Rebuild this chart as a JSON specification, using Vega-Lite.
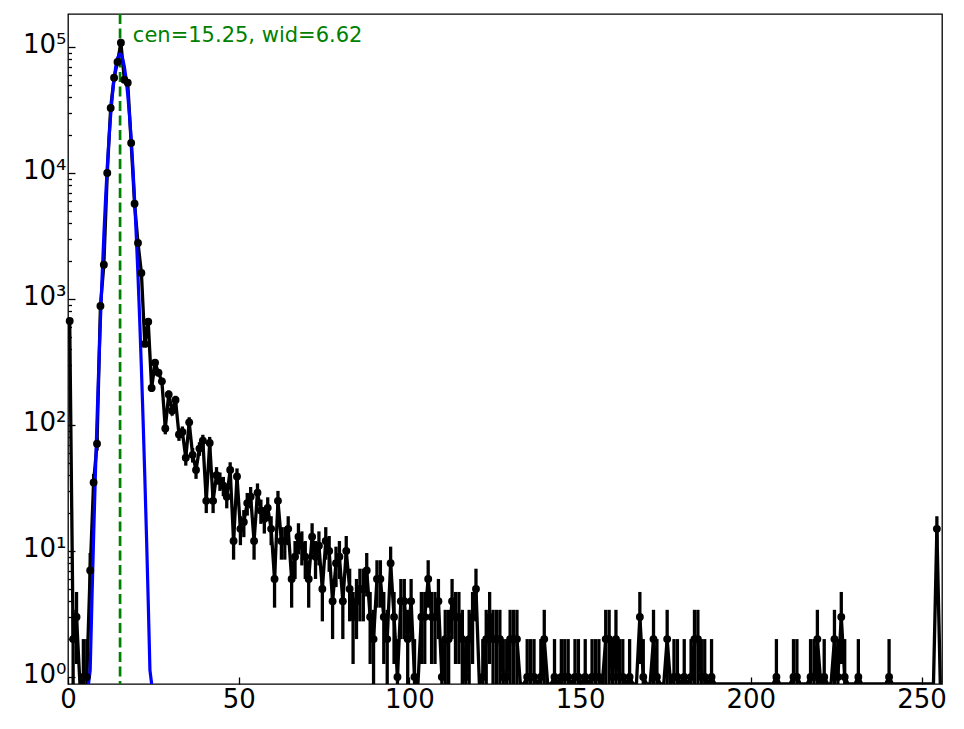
{
  "$schema": "https://vega.github.io/schema/vega-lite/v6.json",
  "width": 874,
  "height": 670,
  "autosize": {"type": "none"},
  "padding": {"left": 68, "top": 14, "right": 22, "bottom": 45},
  "background": "white",
  "config": {
    "view": {"stroke": "black", "strokeWidth": 1.3},
    "font": "DejaVu Sans",
    "axis": {"labelFont": "DejaVu Sans", "labelColor": "black"}
  },
  "data": {"values": [
    {"x":0.5,"n":670,"e":25.88},{"x":1.5,"n":2,"e":1.414},{"x":2.5,"n":3,"e":1.732},{"x":3.5,"n":0,"e":0},
    {"x":4.5,"n":1,"e":1},{"x":5.5,"n":1,"e":1},{"x":6.5,"n":7,"e":2.646},{"x":7.5,"n":35,"e":5.916},
    {"x":8.5,"n":71,"e":8.426},{"x":9.5,"n":880,"e":29.66},{"x":10.5,"n":1870,"e":43.24},{"x":11.5,"n":10000,"e":100},
    {"x":12.5,"n":32800,"e":181.1},{"x":13.5,"n":57000,"e":238.7},{"x":14.5,"n":76000,"e":275.7},{"x":15.5,"n":108000,"e":328.6},
    {"x":16.5,"n":55000,"e":234.5},{"x":17.5,"n":52000,"e":228},{"x":18.5,"n":17300,"e":131.5},{"x":19.5,"n":5700,"e":75.5},
    {"x":20.5,"n":2780,"e":52.73},{"x":21.5,"n":1610,"e":40.12},{"x":22.5,"n":440,"e":20.98},{"x":23.5,"n":660,"e":25.69},
    {"x":24.5,"n":197,"e":14.04},{"x":25.5,"n":312,"e":17.66},{"x":26.5,"n":260,"e":16.12},{"x":27.5,"n":222,"e":14.9},
    {"x":28.5,"n":94,"e":9.695},{"x":29.5,"n":175,"e":13.23},{"x":30.5,"n":130,"e":11.4},{"x":31.5,"n":158,"e":12.57},
    {"x":32.5,"n":84,"e":9.165},{"x":33.5,"n":88,"e":9.381},{"x":34.5,"n":55,"e":7.416},{"x":35.5,"n":105,"e":10.25},
    {"x":36.5,"n":58,"e":7.616},{"x":37.5,"n":44,"e":6.633},{"x":38.5,"n":65,"e":8.062},{"x":39.5,"n":75,"e":8.66},
    {"x":40.5,"n":25,"e":5},{"x":41.5,"n":72,"e":8.485},{"x":42.5,"n":25,"e":5},{"x":43.5,"n":40,"e":6.325},
    {"x":44.5,"n":36,"e":6},{"x":45.5,"n":33,"e":5.745},{"x":46.5,"n":27,"e":5.196},{"x":47.5,"n":44,"e":6.633},
    {"x":48.5,"n":12,"e":3.464},{"x":49.5,"n":39,"e":6.245},{"x":50.5,"n":15,"e":3.873},{"x":51.5,"n":17,"e":4.123},
    {"x":52.5,"n":24,"e":4.899},{"x":53.5,"n":27,"e":5.196},{"x":54.5,"n":12,"e":3.464},{"x":55.5,"n":29,"e":5.385},
    {"x":56.5,"n":21,"e":4.583},{"x":57.5,"n":18,"e":4.243},{"x":58.5,"n":22,"e":4.69},{"x":59.5,"n":15,"e":3.873},
    {"x":60.5,"n":6,"e":2.449},{"x":61.5,"n":25,"e":5},{"x":62.5,"n":12,"e":3.464},{"x":63.5,"n":12,"e":3.464},
    {"x":64.5,"n":15,"e":3.873},{"x":65.5,"n":6,"e":2.449},{"x":66.5,"n":9,"e":3},{"x":67.5,"n":13,"e":3.606},
    {"x":68.5,"n":11,"e":3.317},{"x":69.5,"n":9,"e":3},{"x":70.5,"n":6,"e":2.449},{"x":71.5,"n":13,"e":3.606},
    {"x":72.5,"n":9,"e":3},{"x":73.5,"n":11,"e":3.317},{"x":74.5,"n":5,"e":2.236},{"x":75.5,"n":12,"e":3.464},
    {"x":76.5,"n":10,"e":3.162},{"x":77.5,"n":4,"e":2},{"x":78.5,"n":8,"e":2.828},{"x":79.5,"n":9,"e":3},
    {"x":80.5,"n":4,"e":2},{"x":81.5,"n":10,"e":3.162},{"x":82.5,"n":5,"e":2.236},{"x":83.5,"n":3,"e":1.732},
    {"x":84.5,"n":4,"e":2},{"x":85.5,"n":5,"e":2.236},{"x":86.5,"n":5,"e":2.236},{"x":87.5,"n":7,"e":2.646},
    {"x":88.5,"n":3,"e":1.732},{"x":89.5,"n":2,"e":1.414},{"x":90.5,"n":6,"e":2.449},{"x":91.5,"n":6,"e":2.449},
    {"x":92.5,"n":3,"e":1.732},{"x":93.5,"n":2,"e":1.414},{"x":94.5,"n":8,"e":2.828},{"x":95.5,"n":3,"e":1.732},
    {"x":96.5,"n":1,"e":1},{"x":97.5,"n":4,"e":2},{"x":98.5,"n":4,"e":2},{"x":99.5,"n":2,"e":1.414},
    {"x":100.5,"n":4,"e":2},{"x":101.5,"n":1,"e":1},{"x":102.5,"n":0,"e":0},{"x":103.5,"n":3,"e":1.732},
    {"x":104.5,"n":3,"e":1.732},{"x":105.5,"n":6,"e":2.449},{"x":106.5,"n":3,"e":1.732},{"x":107.5,"n":3,"e":1.732},
    {"x":108.5,"n":4,"e":2},{"x":109.5,"n":1,"e":1},{"x":110.5,"n":2,"e":1.414},{"x":111.5,"n":2,"e":1.414},
    {"x":112.5,"n":4,"e":2},{"x":113.5,"n":3,"e":1.732},{"x":114.5,"n":3,"e":1.732},{"x":115.5,"n":2,"e":1.414},
    {"x":116.5,"n":1,"e":1},{"x":117.5,"n":2,"e":1.414},{"x":118.5,"n":3,"e":1.732},{"x":119.5,"n":5,"e":2.236},
    {"x":120.5,"n":0,"e":0},{"x":121.5,"n":1,"e":1},{"x":122.5,"n":2,"e":1.414},{"x":123.5,"n":3,"e":1.732},
    {"x":124.5,"n":2,"e":1.414},{"x":125.5,"n":2,"e":1.414},{"x":126.5,"n":2,"e":1.414},{"x":127.5,"n":1,"e":1},
    {"x":128.5,"n":1,"e":1},{"x":129.5,"n":2,"e":1.414},{"x":130.5,"n":2,"e":1.414},{"x":131.5,"n":2,"e":1.414},
    {"x":132.5,"n":0,"e":0},{"x":133.5,"n":0,"e":0},{"x":134.5,"n":1,"e":1},{"x":135.5,"n":1,"e":1},
    {"x":136.5,"n":1,"e":1},{"x":137.5,"n":0,"e":0},{"x":138.5,"n":1,"e":1},{"x":139.5,"n":2,"e":1.414},
    {"x":140.5,"n":0,"e":0},{"x":141.5,"n":0,"e":0},{"x":142.5,"n":1,"e":1},{"x":143.5,"n":0,"e":0},
    {"x":144.5,"n":1,"e":1},{"x":145.5,"n":1,"e":1},{"x":146.5,"n":1,"e":1},{"x":147.5,"n":0,"e":0},
    {"x":148.5,"n":1,"e":1},{"x":149.5,"n":1,"e":1},{"x":150.5,"n":0,"e":0},{"x":151.5,"n":1,"e":1},
    {"x":152.5,"n":0,"e":0},{"x":153.5,"n":1,"e":1},{"x":154.5,"n":1,"e":1},{"x":155.5,"n":1,"e":1},
    {"x":156.5,"n":0,"e":0},{"x":157.5,"n":2,"e":1.414},{"x":158.5,"n":2,"e":1.414},{"x":159.5,"n":1,"e":1},
    {"x":160.5,"n":2,"e":1.414},{"x":161.5,"n":1,"e":1},{"x":162.5,"n":1,"e":1},{"x":163.5,"n":0,"e":0},
    {"x":164.5,"n":1,"e":1},{"x":165.5,"n":0,"e":0},{"x":166.5,"n":0,"e":0},{"x":167.5,"n":3,"e":1.732},
    {"x":168.5,"n":1,"e":1},{"x":169.5,"n":0,"e":0},{"x":170.5,"n":0,"e":0},{"x":171.5,"n":2,"e":1.414},
    {"x":172.5,"n":1,"e":1},{"x":173.5,"n":0,"e":0},{"x":174.5,"n":0,"e":0},{"x":175.5,"n":2,"e":1.414},
    {"x":176.5,"n":0,"e":0},{"x":177.5,"n":1,"e":1},{"x":178.5,"n":1,"e":1},{"x":179.5,"n":0,"e":0},
    {"x":180.5,"n":1,"e":1},{"x":181.5,"n":0,"e":0},{"x":182.5,"n":1,"e":1},{"x":183.5,"n":2,"e":1.414},
    {"x":184.5,"n":2,"e":1.414},{"x":185.5,"n":1,"e":1},{"x":186.5,"n":1,"e":1},{"x":187.5,"n":0,"e":0},
    {"x":188.5,"n":1,"e":1},{"x":189.5,"n":0,"e":0},{"x":190.5,"n":0,"e":0},{"x":191.5,"n":0,"e":0},
    {"x":192.5,"n":0,"e":0},{"x":193.5,"n":0,"e":0},{"x":194.5,"n":0,"e":0},{"x":195.5,"n":0,"e":0},
    {"x":196.5,"n":0,"e":0},{"x":197.5,"n":0,"e":0},{"x":198.5,"n":0,"e":0},{"x":199.5,"n":0,"e":0},
    {"x":200.5,"n":0,"e":0},{"x":201.5,"n":0,"e":0},{"x":202.5,"n":0,"e":0},{"x":203.5,"n":0,"e":0},
    {"x":204.5,"n":0,"e":0},{"x":205.5,"n":0,"e":0},{"x":206.5,"n":0,"e":0},{"x":207.5,"n":1,"e":1},
    {"x":208.5,"n":0,"e":0},{"x":209.5,"n":0,"e":0},{"x":210.5,"n":0,"e":0},{"x":211.5,"n":0,"e":0},
    {"x":212.5,"n":1,"e":1},{"x":213.5,"n":1,"e":1},{"x":214.5,"n":0,"e":0},{"x":215.5,"n":0,"e":0},
    {"x":216.5,"n":0,"e":0},{"x":217.5,"n":1,"e":1},{"x":218.5,"n":1,"e":1},{"x":219.5,"n":2,"e":1.414},
    {"x":220.5,"n":0,"e":0},{"x":221.5,"n":1,"e":1},{"x":222.5,"n":0,"e":0},{"x":223.5,"n":0,"e":0},
    {"x":224.5,"n":2,"e":1.414},{"x":225.5,"n":1,"e":1},{"x":226.5,"n":3,"e":1.732},{"x":227.5,"n":1,"e":1},
    {"x":228.5,"n":0,"e":0},{"x":229.5,"n":0,"e":0},{"x":230.5,"n":0,"e":0},{"x":231.5,"n":1,"e":1},
    {"x":232.5,"n":0,"e":0},{"x":233.5,"n":0,"e":0},{"x":234.5,"n":0,"e":0},{"x":235.5,"n":0,"e":0},
    {"x":236.5,"n":0,"e":0},{"x":237.5,"n":0,"e":0},{"x":238.5,"n":0,"e":0},{"x":239.5,"n":0,"e":0},
    {"x":240.5,"n":1,"e":1},{"x":241.5,"n":0,"e":0},{"x":242.5,"n":0,"e":0},{"x":243.5,"n":0,"e":0},
    {"x":244.5,"n":0,"e":0},{"x":245.5,"n":0,"e":0},{"x":246.5,"n":0,"e":0},{"x":247.5,"n":0,"e":0},
    {"x":248.5,"n":0,"e":0},{"x":249.5,"n":0,"e":0},{"x":250.5,"n":0,"e":0},{"x":251.5,"n":0,"e":0},
    {"x":252.5,"n":0,"e":0},{"x":253.5,"n":0,"e":0},{"x":254.5,"n":15,"e":3.873},{"x":255.5,"n":0,"e":0}
  ]},
  "layer": [
    {
      "data": {"values": [{}]},
      "mark": {"type": "rule", "color": "#008000", "strokeWidth": 2.7, "strokeDash": [10, 4.5]},
      "encoding": {"x": {"datum": 15.25, "type": "quantitative"}}
    },
    {
      "mark": {"type": "line", "color": "black", "strokeWidth": 3.3, "clip": true},
      "encoding": {
        "x": {"field": "x", "type": "quantitative",
          "scale": {"domain": [0, 256], "nice": false, "zero": false},
          "axis": {"title": null, "values": [0, 50, 100, 150, 200, 250], "grid": false, "domain": false,
            "tickColor": "black", "tickWidth": 1.3, "tickSize": -7, "labelPadding": 9,
            "labelFontSize": 26, "labelFlush": false, "labelOverlap": false}},
        "y": {"field": "n", "type": "quantitative",
          "scale": {"type": "log", "domain": [0.88, 182800], "nice": false, "clamp": true},
          "axis": {"title": null, "grid": false, "domain": false,
            "values": [1,2,3,4,5,6,7,8,9,10,20,30,40,50,60,70,80,90,100,200,300,400,500,600,700,800,900,1000,2000,3000,4000,5000,6000,7000,8000,9000,10000,20000,30000,40000,50000,60000,70000,80000,90000,100000],
            "labelExpr": "datum.value == 1 ? '10⁰' : datum.value == 10 ? '10¹' : datum.value == 100 ? '10²' : datum.value == 1000 ? '10³' : datum.value == 10000 ? '10⁴' : datum.value == 100000 ? '10⁵' : ''",
            "tickColor": "black", "tickWidth": 1.3,
            "tickSize": {"condition": {"test": "datum.value == 1 || datum.value == 10 || datum.value == 100 || datum.value == 1000 || datum.value == 10000 || datum.value == 100000", "value": -7}, "value": -3.5},
            "labelPadding": 9, "labelFontSize": 26, "labelOffset": -3, "labelOverlap": false, "labelBound": false, "labelFlush": false, "labelBaseline": "middle"}}
      }
    },
    {
      "transform": [{"filter": "datum.n > 0"}],
      "mark": {"type": "errorbar", "color": "black", "thickness": 3.3},
      "encoding": {
        "x": {"field": "x", "type": "quantitative", "title": null},
        "y": {"field": "n", "type": "quantitative", "title": null},
        "yError": {"field": "e"}
      }
    },
    {
      "data": {"values": [
        {"x":6.0,"f":0.302},{"x":6.5,"f":1.134},{"x":7.0,"f":3.96},{"x":7.5,"f":12.84},{"x":8.0,"f":38.7},
        {"x":8.5,"f":108.3},{"x":9.0,"f":281.6},{"x":9.5,"f":680.6},{"x":10.0,"f":1529},{"x":10.5,"f":3188},
        {"x":11.0,"f":6178},{"x":11.5,"f":11128},{"x":12.0,"f":18617},{"x":12.5,"f":28940},{"x":13.0,"f":41800},
        {"x":13.5,"f":56089},{"x":14.0,"f":69935},{"x":14.5,"f":81014},{"x":15.0,"f":87195},{"x":15.25,"f":88000},
        {"x":15.5,"f":87195},{"x":16.0,"f":81014},{"x":16.5,"f":69935},{"x":17.0,"f":56089},{"x":17.5,"f":41800},
        {"x":18.0,"f":28940},{"x":18.5,"f":18617},{"x":19.0,"f":11128},{"x":19.5,"f":6178},{"x":20.0,"f":3188},
        {"x":20.5,"f":1529},{"x":21.0,"f":680.6},{"x":21.5,"f":281.6},{"x":22.0,"f":108.3},{"x":22.5,"f":38.7},
        {"x":23.0,"f":12.84},{"x":23.5,"f":3.96},{"x":24.0,"f":1.134},{"x":24.5,"f":0.302}
      ]},
      "mark": {"type": "line", "color": "#0000ff", "strokeWidth": 3.2, "clip": true},
      "encoding": {
        "x": {"field": "x", "type": "quantitative", "title": null},
        "y": {"field": "f", "type": "quantitative", "title": null}
      }
    },
    {
      "transform": [{"filter": "datum.n > 0"}],
      "mark": {"type": "point", "filled": true, "color": "black", "size": 62, "opacity": 1},
      "encoding": {
        "x": {"field": "x", "type": "quantitative", "title": null},
        "y": {"field": "n", "type": "quantitative", "title": null}
      }
    },
    {
      "data": {"values": [{}]},
      "mark": {"type": "text", "align": "left", "baseline": "middle", "fontSize": 21, "color": "#008000", "font": "DejaVu Sans"},
      "encoding": {
        "x": {"datum": 19, "type": "quantitative"},
        "y": {"datum": 122000, "type": "quantitative"},
        "text": {"value": "cen=15.25, wid=6.62"}
      }
    }
  ]
}
